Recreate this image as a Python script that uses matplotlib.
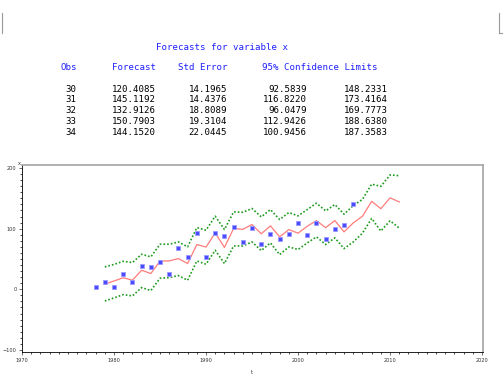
import numpy as np
import matplotlib.pyplot as plt
from matplotlib.lines import Line2D

# observed series (1978-2006)
obs_years = list(range(1978, 2007))
obs_x = [4, 11.6, 3.3, 24.8, 12.7, 38.5, 36.9, 45.7, 25.9, 68.8, 53.9, 92.5, 53.9,
         92.5, 88.6, 102.4, 78.7, 101.3, 74.8, 91.4, 82.6, 91.4, 109.5, 89.7,
         109.5, 83.7, 100.2, 105.7, 140.3]

# one-step forecasts and 95% limits (1979-2011)
fc_years = list(range(1979, 2012))
forecast = [8.5, 13.7, 19.0, 14.9, 31.4, 25.9, 46.5, 46.8, 50.6, 42.4, 73.8, 69.6,
            93.0, 69.0, 100.5, 98.8, 106.8, 91.5, 104.6, 86.5, 98.5, 92.5, 104.0,
            113.2, 101.6, 113.4, 94.7, 109.5, 120.4085, 145.1192, 132.9126,
            150.7903, 144.1520]
upper = [36.9, 41.0, 46.2, 44.0, 57.8, 53.4, 74.3, 74.3, 78.1, 69.9, 101.8, 97.4,
         120.5, 98.5, 127.7, 127.1, 133.2, 119.4, 131.5, 115.0, 126.6, 121.1,
         131.5, 142.0, 129.3, 139.8, 123.8, 138.1, 148.2331, 173.4164, 169.7773,
         188.6380, 187.3583]
lower = [-19.3, -14.3, -8.8, -11.0, 2.8, -2.2, 18.2, 19.3, 22.6, 14.9, 46.8, 41.3,
         64.4, 42.4, 71.5, 71.5, 78.1, 63.8, 76.5, 57.2, 69.9, 65.5, 76.5, 86.4,
         73.7, 84.8, 67.1, 78.1, 92.5839, 116.8220, 96.0479, 112.9426, 100.9456]

# forecast table
tab_obs = ['30', '31', '32', '33', '34']
tab_fc = ['120.4085', '145.1192', '132.9126', '150.7903', '144.1520']
tab_se = ['14.1965', '14.4376', '18.8089', '19.3104', '22.0445']
tab_lo = ['92.5839', '116.8220', '96.0479', '112.9426', '100.9456']
tab_hi = ['148.2331', '173.4164', '169.7773', '188.6380', '187.3583']

W, H = 503, 376
fig = plt.figure(figsize=(W / 100, H / 100), dpi=100)

def px(x, y):
    return x / W, 1 - y / H

mono = 'DejaVu Sans Mono'
blue = '#2020ff'
fs = 6.6

fig.text(*px(222, 47), 'Forecasts for variable x', color=blue, family=mono,
         fontsize=fs, ha='center', va='center')
for x, s in [(77, 'Obs'), (156, 'Forecast'), (227, 'Std Error'), (377, '95% Confidence Limits')]:
    fig.text(*px(x, 68), s, color=blue, family=mono, fontsize=fs, ha='right', va='center')

row_y = [89.3, 100, 110.7, 121.5, 132.3]
for i, y in enumerate(row_y):
    for x, col in [(76, tab_obs), (156, tab_fc), (227, tab_se), (307, tab_lo), (388, tab_hi)]:
        fig.text(*px(x, y), col[i], color='black', family=mono, fontsize=fs,
                 ha='right', va='center')

# page corner marks
fig.add_artist(Line2D([1.5 / W, 1.5 / W], [1 - 13 / H, 1 - 33 / H], color='#999999', lw=0.8))
fig.add_artist(Line2D([499 / W, 499 / W], [1 - 13 / H, 1 - 33 / H], color='#999999', lw=0.8))
fig.add_artist(Line2D([499 / W, 503 / W], [1 - 33 / H, 1 - 33 / H], color='#999999', lw=0.8))

ax = fig.add_axes([22 / W, 1 - 352 / H, 461 / W, 187 / H])
ax.plot(fc_years, upper, color='#1e9a1e', lw=1.2, ls=(0, (1, 1.2)))
ax.plot(fc_years, lower, color='#1e9a1e', lw=1.2, ls=(0, (1, 1.2)))
ax.plot(fc_years, forecast, color='#ff7c7c', lw=0.9)
ax.plot(obs_years, obs_x, ls='none', marker='s', ms=2.2, color='#4a4aff',
        markeredgecolor='#9a9aff', markeredgewidth=0.6)

ax.set_xlim(1970, 2020.1)
ax.set_ylim(-103.5, 205)
ax.set_xticks([1970, 1980, 1990, 2000, 2010, 2020])
ax.set_xticks(np.arange(1970, 2021, 1), minor=True)
ax.set_yticks([-100, 0, 100, 200])
ax.set_yticks(np.arange(-100, 201, 10), minor=True)
ax.tick_params(labelsize=3.6, length=2.5, width=0.5, pad=1.5, colors='#333333')
ax.tick_params(which='minor', length=1.5, width=0.5)
for s in ['left', 'bottom']:
    ax.spines[s].set_linewidth(0.6)
for s in ['top', 'right']:
    ax.spines[s].set_color('#aaaaaa')
    ax.spines[s].set_linewidth(1.3)

fig.text(*px(19, 163), 'x', fontsize=3.6, ha='center', va='center', color='#333333')
fig.text(*px(252, 372), 't', fontsize=3.6, ha='center', va='center', color='#333333')

fig.savefig('out.png', dpi=100)
